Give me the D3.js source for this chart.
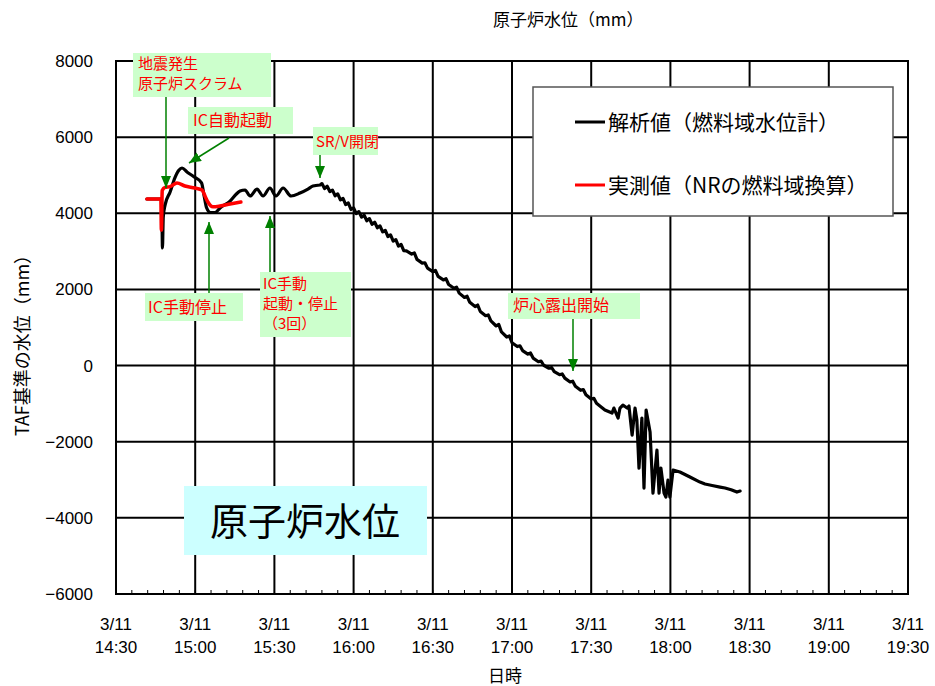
<!DOCTYPE html>
<html><head><meta charset="utf-8">
<script src="https://cdn.jsdelivr.net/npm/d3@7/dist/d3.min.js"></script>
<style>body{margin:0;background:#fff}svg{display:block}</style>
</head><body>
<svg id="chart" width="935" height="686"></svg>
<script>
// ---- data ----
// x ticks: minutes after 3/11 14:30
const xTickMinutes = [0, 30, 60, 90, 120, 150, 180, 210, 240, 270, 300];
const xTickDates = ["3/11","3/11","3/11","3/11","3/11","3/11","3/11","3/11","3/11","3/11","3/11"];
const xTickTimes = ["14:30","15:00","15:30","16:00","16:30","17:00","17:30","18:00","18:30","19:00","19:30"];
const yTicks = [-6000, -4000, -2000, 0, 2000, 4000, 6000, 8000];

// 解析値(燃料域水位計): minutes after 14:30, level (mm)
const analysisMin = [11.7,16.8,17.3,17.6,17.9,18.6,20.5,22.3,23.8,25.0,27.0,29.5,32.4,33.4,34.3,35.8,37.5,39.4,43.2,45.5,47.0,48.9,50.8,53.4,55.7,58.3,60.6,63.3,66.3,69.7,72.7,74.6,77.3,
 78,79,80,81,82,83,84,85,86,87,88,89,90,91,92,93,94,95,96,97,98,99,100,101,102,103,104,105,106,107,108,109,
 110,112,113,114,116,117,118,120,121,122,124,125,126,128,129,130,132,133,134,136,137,138,140,141,142,144,145,146,148,149,150,152,153,154,156,157,158,160,161,162,164,165,166,168,169,170,172,173,174,176,177,178,180,181,182,184,
 185.2,187.9,188.6,190.2,190.9,192.0,193.6,194.3,195.5,196.6,197.3,198.1,199.2,200.0,200.8,202.3,203.4,204.9,205.7,206.4,207.6,208.3,209.1,209.8,211.0,213.6,217.4,221.2,223.1,225.8,228.8,230.7,233.0,235.2,236.4];
const analysisMM = [4375,4375,4360,3090,3900,4220,4560,4930,5130,5190,5080,4960,4800,4450,4150,4020,4020,4140,4320,4500,4585,4611,4454,4637,4454,4664,4454,4664,4454,4532,4637,4716,4743,
 4780,4650,4710,4570,4610,4460,4510,4350,4390,4230,4270,4100,4140,3990,4045,3900,3950,3805,3860,3710,3765,3620,3670,3510,3550,3390,3430,3270,3310,3140,3180,3020,
 3014,2930,2960,2790,2690,2700,2560,2470,2500,2343,2250,2280,2129,2030,2060,1903,1790,1820,1661,1550,1590,1420,1310,1330,1174,1040,1080,883,750,780,600,500,520,394,300,330,196,100,120,8,-70,-50,-161,-240,-220,-330,-430,-410,-540,-650,-630,-768,-880,-860,-992,-1100,
 -1168,-1247,-1116,-1379,-1116,-1037,-1116,-1063,-1825,-1116,-1431,-2692,-1379,-3217,-1168,-1746,-3349,-2219,-3349,-2692,-3349,-3454,-3007,-3454,-2744,-2797,-2928,-3060,-3112,-3150,-3191,-3217,-3260,-3322,-3296];

// 実測値(NRの燃料域換算)
const measuredMin = [11.7,17.0,17.2,17.5,18.6,20.5,23.1,26.1,29.9,32.6,33.7,34.8,36.7,39.4,43.2,47.3];
const measuredMM  = [4375,4375,3560,4600,4680,4700,4795,4716,4664,4611,4454,4296,4170,4190,4243,4296];

const legendLabels = ["解析値（燃料域水位計）", "実測値（NRの燃料域換算）"];
const legendColors = ["#000000", "#ff0000"];

// ---- layout ----
const svg = d3.select("#chart");
const L = 116, R = 908, T = 61, B = 594;
const x = d3.scaleLinear().domain([0, 300]).range([L, R]);
const y = d3.scaleLinear().domain([-6000, 8000]).range([B, T]);
const numFont = "'Liberation Sans', Arial, sans-serif";
const jpFont = "'Noto Sans CJK JP', 'Noto Sans CJK SC', sans-serif";

// grid
const g = svg.append("g");
g.selectAll("line.v").data(xTickMinutes).join("line").attr("class","v")
  .attr("x1", d => x(d)).attr("x2", d => x(d)).attr("y1", T).attr("y2", B)
  .attr("stroke", "#000").attr("stroke-width", 2);
g.selectAll("line.h").data(yTicks).join("line").attr("class","h")
  .attr("x1", L).attr("x2", R).attr("y1", d => y(d)).attr("y2", d => y(d))
  .attr("stroke", "#000").attr("stroke-width", 2);
const minor = d3.range(0, 301, 6);
g.selectAll("line.m").data(minor).join("line").attr("class","m")
  .attr("x1", d => x(d)).attr("x2", d => x(d)).attr("y1", B).attr("y2", B - 4)
  .attr("stroke", "#000").attr("stroke-width", 1);
g.append("rect").attr("x", L).attr("y", T).attr("width", R - L).attr("height", B - T)
  .attr("fill", "none").attr("stroke", "#000").attr("stroke-width", 2);

// y tick labels
svg.selectAll("text.yt").data(yTicks).join("text").attr("class","yt")
  .attr("x", 93).attr("y", d => y(d) + 6).attr("text-anchor", "end")
  .attr("font-family", numFont).attr("font-size", 17)
  .text(d => d < 0 ? "\u2212" + Math.abs(d) : String(d));
// x tick labels
svg.selectAll("text.xd").data(xTickMinutes).join("text").attr("class","xd")
  .attr("x", d => x(d)).attr("y", 630).attr("text-anchor", "middle")
  .attr("font-family", numFont).attr("font-size", 17)
  .text((d, i) => xTickDates[i]);
svg.selectAll("text.xt").data(xTickMinutes).join("text").attr("class","xt")
  .attr("x", d => x(d)).attr("y", 653).attr("text-anchor", "middle")
  .attr("font-family", numFont).attr("font-size", 17)
  .text((d, i) => xTickTimes[i]);

// axis titles
svg.append("text").attr("x", 493).attr("y", 26).attr("font-family", jpFont).attr("font-size", 17)
  .text("原子炉水位（mm）");
svg.append("text").attr("transform", "translate(29,341) rotate(-90)").attr("text-anchor", "middle")
  .attr("font-family", jpFont).attr("font-size", 18).text("TAF基準の水位（mm）");
svg.append("text").attr("x", 505).attr("y", 682).attr("text-anchor", "middle")
  .attr("font-family", jpFont).attr("font-size", 17).text("日時");

// lines: smooth up to the SR/V opening, straight segments afterwards
const aPts = analysisMin.map((m, i) => [m, analysisMM[i]]);
const mPts = measuredMin.map((m, i) => [m, measuredMM[i]]);
const split = analysisMin.indexOf(77.3);
const smooth = d3.line().x(d => x(d[0])).y(d => y(d[1])).curve(d3.curveMonotoneX);
const straight = d3.line().x(d => x(d[0])).y(d => y(d[1]));
svg.append("path").attr("d", smooth(aPts.slice(0, split + 1)) + straight(aPts.slice(split)).replace(/^M/, "L"))
  .attr("fill", "none").attr("stroke", "#000")
  .attr("stroke-width", 3.2).attr("stroke-linejoin", "round").attr("stroke-linecap", "round");
svg.append("path").attr("d", smooth(mPts)).attr("fill", "none").attr("stroke", "#ff0000")
  .attr("stroke-width", 3.6).attr("stroke-linejoin", "round").attr("stroke-linecap", "round");

// legend
svg.append("rect").attr("x", 533).attr("y", 87).attr("width", 360).attr("height", 129)
  .attr("fill", "#fff").attr("stroke", "#555").attr("stroke-width", 1.5);
legendLabels.forEach((lab, i) => {
  const ly = 122 + i * 63;
  svg.append("line").attr("x1", 575).attr("x2", 605).attr("y1", ly).attr("y2", ly)
    .attr("stroke", legendColors[i]).attr("stroke-width", 3);
  svg.append("text").attr("x", 608).attr("y", ly + 8).attr("font-family", jpFont)
    .attr("font-size", 21).text(lab);
});

// annotations
const defs = svg.append("defs");
defs.append("marker").attr("id", "ah").attr("viewBox", "0 0 12 10").attr("refX", 12).attr("refY", 5)
  .attr("markerWidth", 12).attr("markerHeight", 10).attr("markerUnits", "userSpaceOnUse")
  .attr("orient", "auto").append("path").attr("d", "M0,0L12,5L0,10z").attr("fill", "#008000");

const notes = [
  {box:[133,53,138,44], lines:["地震発生","原子炉スクラム"], tx:138, ty:69, fs:15, arrow:[166,97,166,188]},
  {box:[188,107,105,27], lines:["IC自動起動"], tx:193, ty:126, fs:16, arrow:[229,138,189,163]},
  {box:[313,127,65,28], lines:["SR/V開閉"], tx:316, ty:147, fs:15, arrow:[320,155,320,178]},
  {box:[145,293,98,28], lines:["IC手動停止"], tx:148, ty:313, fs:16, arrow:[209,293,209,222]},
  {box:[260,272,91,65], lines:["IC手動","起動・停止","（3回）"], tx:263, ty:289, fs:15, arrow:[270,272,270,216]},
  {box:[508,293,132,26], lines:["炉心露出開始"], tx:513, ty:311, fs:16, arrow:[573,319,573,371]}
];
notes.forEach(n => {
  svg.append("line").attr("x1", n.arrow[0]).attr("y1", n.arrow[1]).attr("x2", n.arrow[2]).attr("y2", n.arrow[3])
    .attr("stroke", "#008000").attr("stroke-width", 1.5).attr("marker-end", "url(#ah)");
  svg.append("rect").attr("x", n.box[0]).attr("y", n.box[1]).attr("width", n.box[2]).attr("height", n.box[3])
    .attr("fill", "#ccffcc");
  n.lines.forEach((t, i) => {
    svg.append("text").attr("x", n.tx).attr("y", n.ty + i * 20).attr("font-family", jpFont)
      .attr("font-size", n.fs).attr("fill", "#ff0000").text(t);
  });
});

// big label
svg.append("rect").attr("x", 184).attr("y", 486).attr("width", 243).attr("height", 69).attr("fill", "#ccffff");
svg.append("text").attr("x", 305).attr("y", 535).attr("text-anchor", "middle").attr("font-family", jpFont)
  .attr("font-size", 38).text("原子炉水位");
</script>
</body></html>
